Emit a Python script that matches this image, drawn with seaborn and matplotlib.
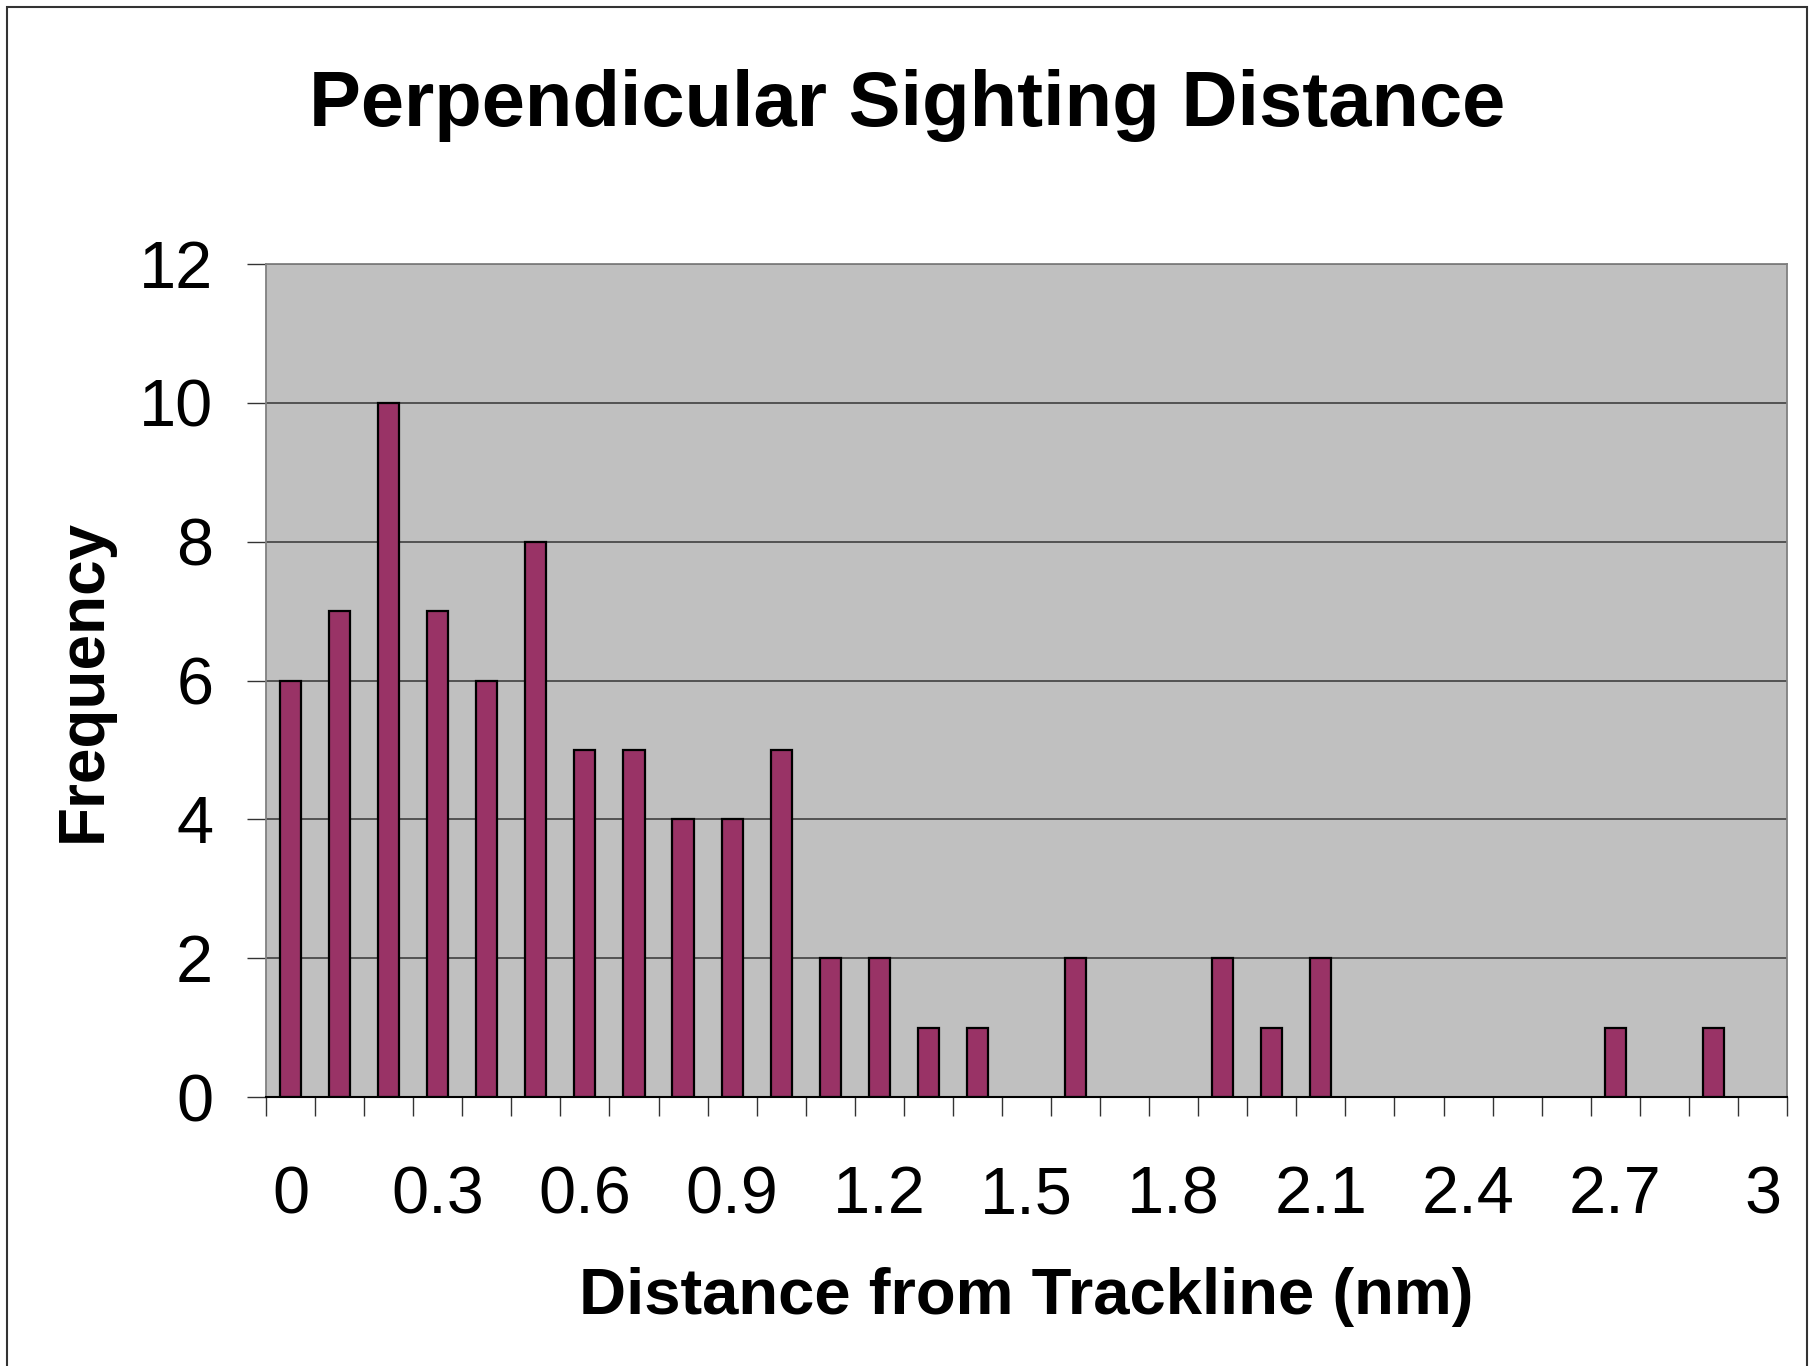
import numpy as np
import pandas as pd
import seaborn as sns
import matplotlib.pyplot as plt
from matplotlib.patches import Rectangle

# distances (nm) and sighting counts
distances = [round(0.1 * i, 1) for i in range(31)]
frequency = [6, 7, 10, 7, 6, 8, 5, 5, 4, 4, 5, 2, 2, 1, 1, 0, 2, 0, 0, 2, 1, 2,
             0, 0, 0, 0, 0, 1, 0, 1, 0]
tick_labels = ['0', '0.3', '0.6', '0.9', '1.2', '1.5', '1.8', '2.1', '2.4', '2.7', '3']

sns.set_theme(style='white')
plt.rcParams['font.family'] = ['Liberation Sans', 'DejaVu Sans']
plt.rcParams['text.color'] = 'black'
plt.rcParams['xtick.labelcolor'] = 'black'
plt.rcParams['ytick.labelcolor'] = 'black'

W, H = 1815, 1366
fig = plt.figure(figsize=(W / 100, H / 100), dpi=100)
ax = fig.add_axes([266 / W, 1 - 1097 / H, (1787 - 266) / W, (1097 - 264) / H])
ax.set_facecolor('#C0C0C0')

df = pd.DataFrame({'dist': [str(d) for d in distances], 'freq': frequency})
sns.barplot(data=df, x='dist', y='freq', order=df['dist'], color='#993366',
            saturation=1, width=0.43, edgecolor='black', linewidth=1.6, ax=ax, zorder=3)
for p in ax.patches:  # empty bins: no flat outline on the axis
    if p.get_height() == 0:
        p.set_edgecolor('none')

ax.set_xlim(-0.5, len(distances) - 0.5)
ax.set_ylim(0, 12)
ax.set_yticks(np.arange(0, 13, 2))
ax.yaxis.grid(True, color='#4a4a4a', linewidth=1.3, zorder=1)
ax.set_axisbelow(True)

# labels at every 3rd category, tick marks on category boundaries
ax.set_xticks(np.arange(0, 31, 3))
ax.set_xticklabels(tick_labels)
ax.set_xticks(np.arange(-0.5, 31, 1), minor=True)
ax.tick_params(axis='x', which='major', length=0, pad=49, labelsize=48)
ax.tick_params(axis='x', which='minor', length=14, width=1.0, color='#333333',
               direction='out', bottom=True)
ax.tick_params(axis='y', length=14, width=1.0, color='#333333', direction='out',
               left=True, pad=24, labelsize=48)

for s in ['top', 'right', 'left']:
    ax.spines[s].set_color('#808080')
    ax.spines[s].set_linewidth(1.3)
ax.spines['bottom'].set_color('black')
ax.spines['bottom'].set_linewidth(1.5)

ax.set_xlabel('')
ax.set_ylabel('')
fig.text(0.5, 1 - 105 / H, 'Perpendicular Sighting Distance', ha='center', va='center',
         fontsize=56, fontweight='bold')
fig.text(1026 / W, 1 - 1297 / H, 'Distance from Trackline (nm)', ha='center', va='center',
         fontsize=47, fontweight='bold')
fig.text(84 / W, 1 - 680 / H, 'Frequency', ha='center', va='center', rotation=90,
         fontsize=46, fontweight='bold')

# outer chart frame
fig.patches.append(Rectangle((7 / W, -0.05), (1807 - 7) / W, 1.05 - 7 / H,
                             transform=fig.transFigure, fill=False,
                             edgecolor='#333333', linewidth=1.5))

fig.savefig('out.png', dpi=100)
